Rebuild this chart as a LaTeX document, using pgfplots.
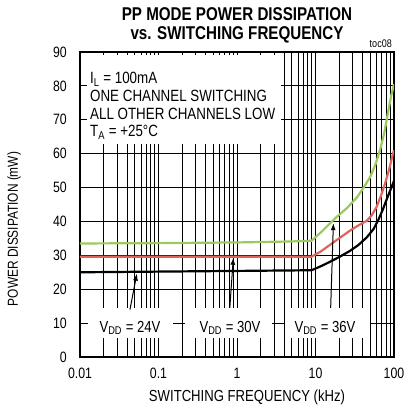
\documentclass[border=0pt]{standalone}
\usepackage{fontspec}
\setmainfont{Liberation Sans}[FakeStretch=0.82]
\usepackage{pgfplots}
\pgfplotsset{compat=1.18}
\usetikzlibrary{arrows.meta}
\definecolor{vgreen}{HTML}{9BC95B}
\definecolor{vred}{HTML}{E0645C}

\begin{document}
\begin{tikzpicture}
\begin{axis}[
  at={(0,0)}, anchor=south west,
  scale only axis, width=314bp, height=305bp,
  xmode=log, xmin=0.01, xmax=100, ymin=0, ymax=90,
  xtick={0.01,0.1,1,10,100}, xticklabels={0.01,0.1,1,10,100},
  minor xtick={0.02,0.03,0.04,0.05,0.06,0.07,0.08,0.09,
               0.2,0.3,0.4,0.5,0.6,0.7,0.8,0.9,
               2,3,4,5,6,7,8,9,20,30,40,50,60,70,80,90},
  ytick={0,10,...,90}, minor y tick num=0,
  grid=both,
  major grid style={black, line width=1bp},
  minor grid style={black, line width=1bp},
  axis line style={line width=2.4bp},
  major tick length=5bp, minor tick length=5bp,
  tick style={black, line width=1bp},
  /pgf/number format/assume math mode=true,
  ticklabel style={font=\fontsize{15bp}{16bp}\selectfont, inner sep=0pt},
  yticklabel style={anchor=east, xshift=-13bp},
  xticklabel style={anchor=north, yshift=-11bp},
]
% white boxes behind the text
\fill[white] (axis cs:0.0123,63) rectangle (axis cs:3.63,89);
\fill[white] (axis cs:0.0126,5.6) rectangle (axis cs:0.153,14.5);
\fill[white] (axis cs:0.218,5.6) rectangle (axis cs:2.79,14.5);
\fill[white] (axis cs:4.08,5.6) rectangle (axis cs:49.4,14.5);

% VDD = 36V
\addplot[vgreen, line width=2.2bp] coordinates {
  (0.01,33.5)(0.1,33.6)(1,33.8)(5,34.1)(8.9,34.3)(12,37.0)(17.7,40.9)
  (25,43.9)(33.5,47.0)(40,49.6)(49.4,53.0)(58,56.8)(66.4,61.1)(75,66.0)
  (84.6,72.6)(92,77.0)(100,80.5)};
% VDD = 30V
\addplot[vred, line width=2.2bp] coordinates {
  (0.01,29.6)(0.1,29.6)(1,29.6)(8.9,29.6)(11.6,31.1)(18.6,34.5)(27.5,37.3)
  (35,38.8)(45,40.2)(52,41.8)(60,44.3)(68,47.5)(77,51.2)(87,55.5)
  (97,60.0)(100,61.0)};
% VDD = 24V
\addplot[black, line width=2.2bp] coordinates {
  (0.01,25.0)(0.1,25.2)(1,25.4)(8.9,25.6)(12,26.9)(15,28.0)(20,29.5)
  (27,31.2)(35,33.0)(45,35.3)(55,37.8)(63,40.4)(72,43.5)(80,46.3)
  (90,49.3)(100,52.0)};

\draw[-{Latex[length=7bp,width=5bp]}, line width=1bp]
  (axis cs:0.0433,14.0) -- (axis cs:0.053,24.6);
\draw[-{Latex[length=7bp,width=5bp]}, line width=1bp]
  (axis cs:0.81,14.5) -- (axis cs:0.897,29.3);
\draw[-{Latex[length=7bp,width=5bp]}, line width=1bp]
  (axis cs:15.6,14.5) -- (axis cs:16.9,39.5);
\end{axis}

\node[anchor=base, font=\bfseries\fontsize{18.5bp}{20bp}\selectfont]
  at (157bp,336bp) {PP MODE POWER DISSIPATION};
\node[anchor=base, font=\bfseries\fontsize{18.5bp}{20bp}\selectfont]
  at (157bp,317bp) {vs. SWITCHING FREQUENCY};
\node[anchor=base east, inner sep=0pt, font=\fontsize{11bp}{12bp}\selectfont]
  at (312bp,309bp) {toc08};

\node[anchor=base, font=\fontsize{16bp}{17bp}\selectfont]
  at (167bp,-44bp) {SWITCHING FREQUENCY (kHz)};
\node[rotate=90, font=\fontsize{14.5bp}{16bp}\selectfont]
  at (-66bp,128bp) {POWER DISSIPATION (mW)};

\begin{scope}[every node/.style={anchor=base west, inner sep=0pt,
    font=\fontsize{16.3bp}{18bp}\selectfont}]
  \node at (10bp,273bp) {I\textsubscript{L} = 100mA};
  \node at (10bp,255bp) {ONE CHANNEL SWITCHING};
  \node at (10bp,237bp) {ALL OTHER CHANNELS LOW};
  \node at (10bp,220bp) {T\textsubscript{A} = +25°C};
\end{scope}

\begin{scope}[every node/.style={anchor=base, inner sep=0pt,
    font=\fontsize{16bp}{17bp}\selectfont}]
  \node at (50bp,25bp) {V\textsubscript{DD} = 24V};
  \node at (150bp,25bp) {V\textsubscript{DD} = 30V};
  \node at (245bp,25bp) {V\textsubscript{DD} = 36V};
\end{scope}

\pgfresetboundingbox
\path[use as bounding box] (-80bp,-59bp) rectangle (326bp,357bp);
\end{tikzpicture}
\end{document}
